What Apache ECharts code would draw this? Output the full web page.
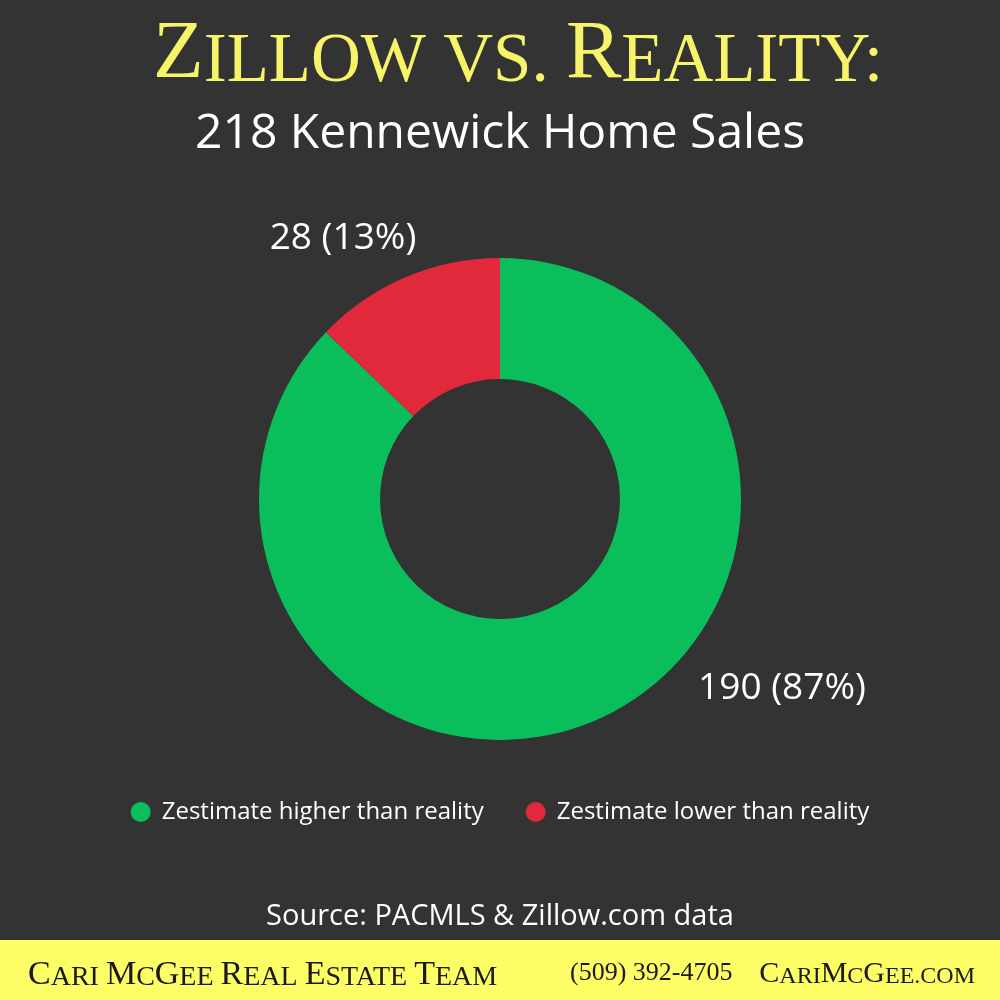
<!DOCTYPE html>
<html>
<head>
<meta charset="utf-8">
<script src="https://cdn.jsdelivr.net/npm/echarts@6/dist/echarts.min.js"></script>
<style>html,body{margin:0;padding:0;background:#333333;}#c{width:1000px;height:1000px;}</style>
</head>
<body>
<div id="c"></div>
<script>
const categories = ['Zestimate higher than reality', 'Zestimate lower than reality'];
const counts = [190, 28];
const colors = ['#0abf5b', '#e2283b'];
const titleText = 'Zillow vs. Reality:';
const subtitleText = '218 Kennewick Home Sales';
const sourceText = 'Source: PACMLS & Zillow.com data';
const footerName = 'Cari McGee Real Estate Team';
const footerPhone = '(509) 392-4705';
const footerSite = 'CariMcGee.com';

// build small-caps rich string
function smallCaps(str, big, small) {
  let out = '';
  let buf = '', mode = null;
  const flush = () => { if (buf) { out += '{' + mode + '|' + buf + '}'; buf = ''; } };
  for (const ch of str) {
    let m;
    if (ch === ' ') { m = small; }
    else if (ch === ch.toUpperCase() && ch !== ch.toLowerCase()) m = big;
    else if (/[0-9]/.test(ch)) m = big;
    else m = small;
    if (m !== mode) { flush(); mode = m; }
    buf += (m === small ? ch.toUpperCase() : ch);
  }
  flush();
  return out;
}

const chart = echarts.init(document.getElementById('c'), null, {renderer: 'canvas'});
const serif = '"Liberation Serif", "DejaVu Serif", serif';
const sans = '"Open Sans", "Noto Sans", sans-serif';
const labelPos = [[782, 688], [343, 238]];

chart.setOption({
  backgroundColor: '#333333',
  color: colors,
  title: [{
    text: smallCaps(titleText, 'B', 's'),
    left: 148, top: 9,
    textStyle: {
      rich: {
        B: {fontFamily: serif, fontSize: 83, lineHeight: 83, fontWeight: 'normal', color: '#f7f46a', verticalAlign: 'bottom'},
        s: {fontFamily: serif, fontSize: 69, lineHeight: 69, fontWeight: 'normal', color: '#f7f46a', verticalAlign: 'bottom'}
      }
    }
  }, {
    text: subtitleText,
    left: 'center', top: 105,
    textStyle: {fontFamily: sans, fontSize: 48, fontWeight: 'normal', color: '#ffffff'}
  }, {
    text: sourceText,
    left: 'center', top: 897,
    textStyle: {fontFamily: sans, fontSize: 29, fontWeight: 'normal', color: '#ffffff'}
  }],
  legend: {
    data: categories,
    left: 'center', top: 795,
    icon: 'circle', itemWidth: 20, itemHeight: 20, itemGap: 42,
    textStyle: {fontFamily: sans, fontSize: 24, color: '#ffffff', padding: [0, 0, 0, 6]}
  },
  graphic: [{
    type: 'rect', left: 0, top: 940, z: 0,
    shape: {width: 1000, height: 60},
    style: {fill: '#fdfd66'}
  }, {
    type: 'text', left: 28, top: 958, z: 1,
    style: {
      text: smallCaps(footerName, 'B', 's'),
      rich: {
        B: {fontFamily: serif, fontSize: 34, lineHeight: 34, fill: '#1a1a1a', verticalAlign: 'bottom'},
        s: {fontFamily: serif, fontSize: 28, lineHeight: 28, fill: '#1a1a1a', verticalAlign: 'bottom'}
      }
    }
  }, {
    type: 'text', left: 570, top: 960, z: 1,
    style: {text: footerPhone, font: '26px ' + serif, fill: '#1a1a1a'}
  }, {
    type: 'text', right: 25, top: 959, z: 1,
    style: {
      text: smallCaps(footerSite, 'B', 's'),
      rich: {
        B: {fontFamily: serif, fontSize: 30, lineHeight: 30, fill: '#1a1a1a', verticalAlign: 'bottom'},
        s: {fontFamily: serif, fontSize: 24, lineHeight: 24, fill: '#1a1a1a', verticalAlign: 'bottom'}
      }
    }
  }],
  series: [{
    type: 'pie',
    center: [500, 499],
    radius: [120, 241],
    startAngle: 90,
    clockwise: true,
    percentPrecision: 0,
    avoidLabelOverlap: false,
    data: categories.map((n, i) => ({name: n, value: counts[i]})),
    itemStyle: {borderWidth: 0},
    label: {
      show: true,
      formatter: '{c} ({d}%)',
      fontFamily: sans, fontSize: 37, color: '#ffffff'
    },
    labelLine: {show: false},
    labelLayout: function (p) {
      return {x: labelPos[p.dataIndex][0], y: labelPos[p.dataIndex][1], align: 'center', verticalAlign: 'middle'};
    },
    emphasis: {disabled: true}
  }]
});
</script>
</body>
</html>
